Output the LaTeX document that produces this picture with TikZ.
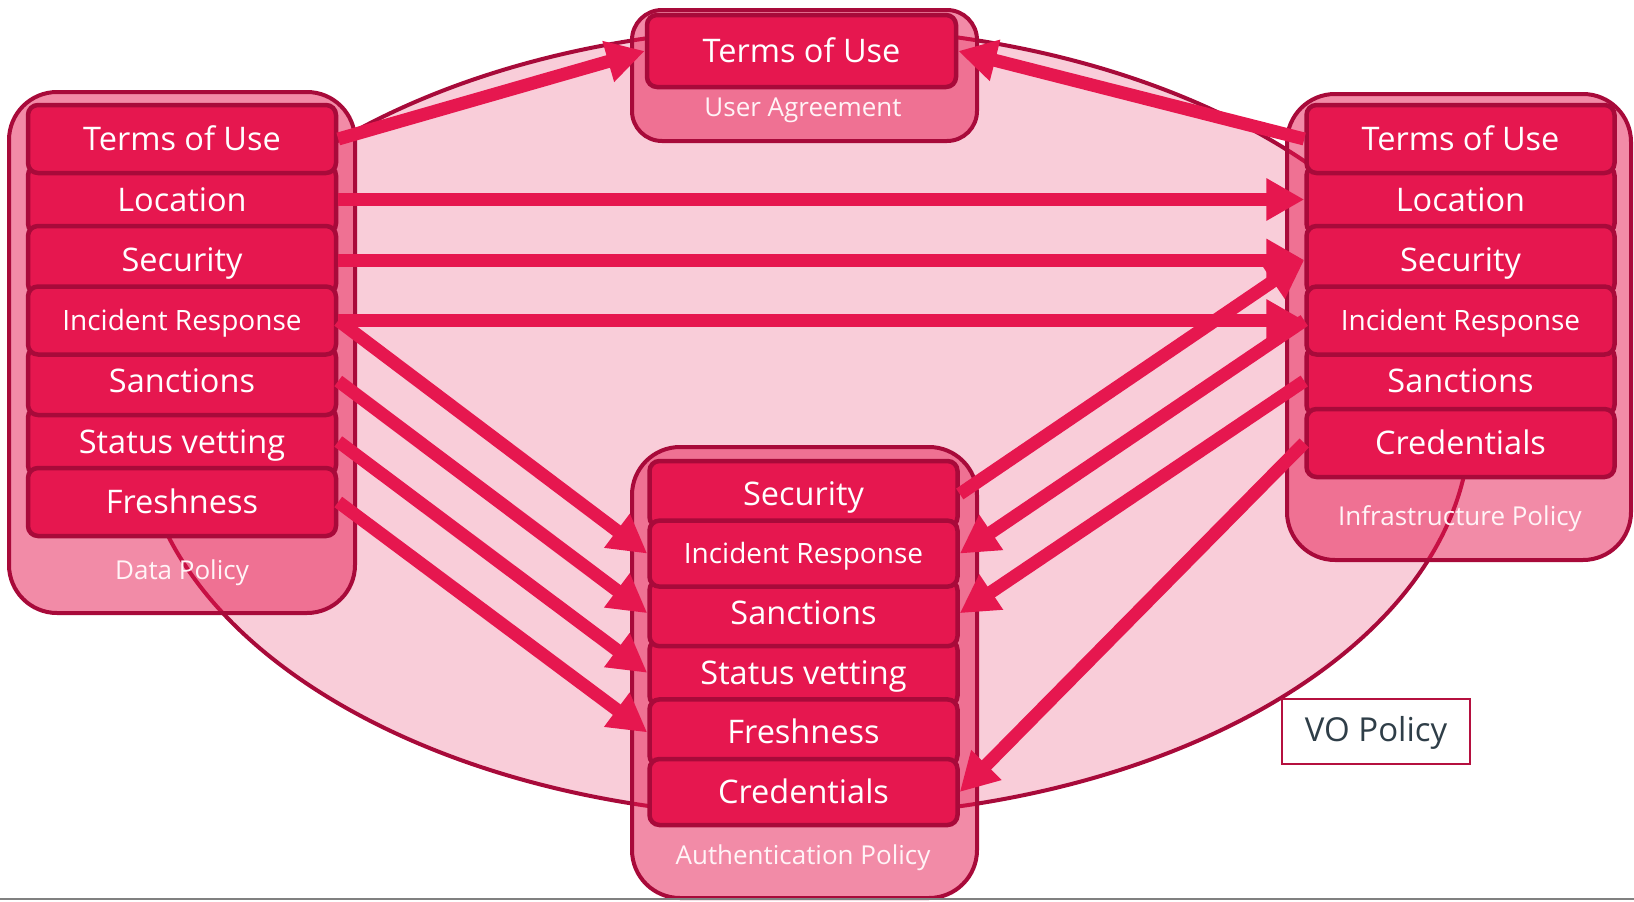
\documentclass[tikz,border=0pt]{standalone}
\usepackage{fontspec}
\setmainfont{Open Sans}
\usetikzlibrary{arrows.meta,shapes.geometric}
\definecolor{boxred}{HTML}{E6174F}
\definecolor{edgered}{HTML}{A80A3A}
\definecolor{elpink}{HTML}{F9CDD9}
\definecolor{labelpink}{HTML}{FFF4F7}
\definecolor{vogray}{HTML}{2F3E48}
\definecolor{vored}{HTML}{B5103F}
\begin{document}
\begin{tikzpicture}[x=1pt,y=-1pt,
  outerbox/.style={draw=edgered, line width=4pt, fill=boxred, fill opacity=0.5, rounded corners=48pt, inner sep=0pt},
  item/.style={draw=edgered, line width=4.5pt, fill=boxred, rounded corners=10pt, minimum width=308pt, minimum height=68pt, inner sep=0pt, text=white, font=\fontsize{32.5}{36}\selectfont, text height=26pt, text depth=3pt},
  itemsmall/.style={item, font=\fontsize{28}{32}\selectfont, text height=23pt, text depth=3pt},
  plabel/.style={text=labelpink, font=\fontsize{26}{30}\selectfont, inner sep=0pt, text height=21.5pt, text depth=3pt},
  link/.style={draw=boxred, line width=13pt, -{Triangle[length=38pt,width=40pt]}}
]
\useasboundingbox (0,0) rectangle (1634,902);
% VO policy ellipse
\node[draw=edgered, line width=4pt, fill=elpink, ellipse, minimum width=1330pt, minimum height=790pt, inner sep=0pt] (vo) at (805,422) {};
% outer policy boxes
\node[outerbox, minimum width=346pt, minimum height=521pt] (dataP) at (182,352.5) {};
\node[outerbox, rounded corners=30pt, minimum width=345pt, minimum height=131pt] (uaP) at (804.5,75.5) {};
\node[outerbox, minimum width=344pt, minimum height=466pt] (infP) at (1459,327) {};
\node[outerbox, minimum width=345pt, minimum height=451pt] (authP) at (804.5,672.5) {};
\node[plabel] (dataL) at (182,570) {Data Policy};
\node[plabel] (uaL) at (803,107) {User Agreement};
\node[plabel] (infL) at (1460,516) {Infrastructure Policy};
\node[plabel] (authL) at (803,855) {Authentication Policy};
% user agreement
\node[item, minimum width=309pt, minimum height=72pt] (u1) at (801.5,51) {Terms of Use};
% data policy
\node[item] (d2) at (182,199.5) {Location};
\node[item] (d6) at (182,441.5) {Status vetting};
\node[item] (d3) at (182,260) {Security};
\node[item] (d5) at (182,381) {Sanctions};
\node[item] (d1) at (182,139) {Terms of Use};
\node[itemsmall] (d4) at (182,320.5) {Incident Response};
\node[item] (d7) at (182,502) {Freshness};
% infrastructure policy
\node[item] (i2) at (1460.5,199.5) {Location};
\node[item] (i5) at (1460.5,381) {Sanctions};
\node[item] (i3) at (1460.5,260) {Security};
\node[item] (i1) at (1460.5,139) {Terms of Use};
\node[itemsmall] (i4) at (1460.5,320.5) {Incident Response};
\node[item] (i6) at (1460.5,443) {Credentials};
% authentication policy
\node[item, minimum height=66pt] (a4) at (803.5,672.8) {Status vetting};
\node[item, minimum height=66pt] (a1) at (803.5,494) {Security};
\node[item, minimum height=66pt] (a3) at (803.5,613.2) {Sanctions};
\node[itemsmall, minimum height=66pt] (a2) at (803.5,553.6) {Incident Response};
\node[item, minimum height=66pt] (a5) at (803.5,732.4) {Freshness};
\node[item, minimum height=66pt] (a6) at (803.5,792) {Credentials};
% connectors
\draw[link] (d1.east) -- (u1.west);
\draw[link] (i1.west) -- (u1.east);
\draw[link] (d2.east) -- (i2.west);
\draw[link] (d3.east) -- (i3.west);
\draw[link] (d4.east) -- (i4.west);
\draw[link] (d4.east) -- (a2.west);
\draw[link] (d5.east) -- (a3.west);
\draw[link] (d6.east) -- (a4.west);
\draw[link] (d7.east) -- (a5.west);
\draw[link] (a1.east) -- (i3.west);
\draw[link] (i4.west) -- (a2.east);
\draw[link] (i5.west) -- (a3.east);
\draw[link] (i6.west) -- (a6.east);
% VO policy label
\node[draw=vored, line width=2pt, fill=white, minimum width=188pt, minimum height=65pt, inner sep=0pt, text=vogray, font=\fontsize{33}{36}\selectfont, text height=24pt, text depth=3pt] (vol) at (1376,731) {VO Policy};
% bottom rule
\coordinate (gl) at (0,899);
\coordinate (gr) at (1634,899);
\draw[color=gray, line width=2pt] (gl) -- (gr);
\end{tikzpicture}
\end{document}
